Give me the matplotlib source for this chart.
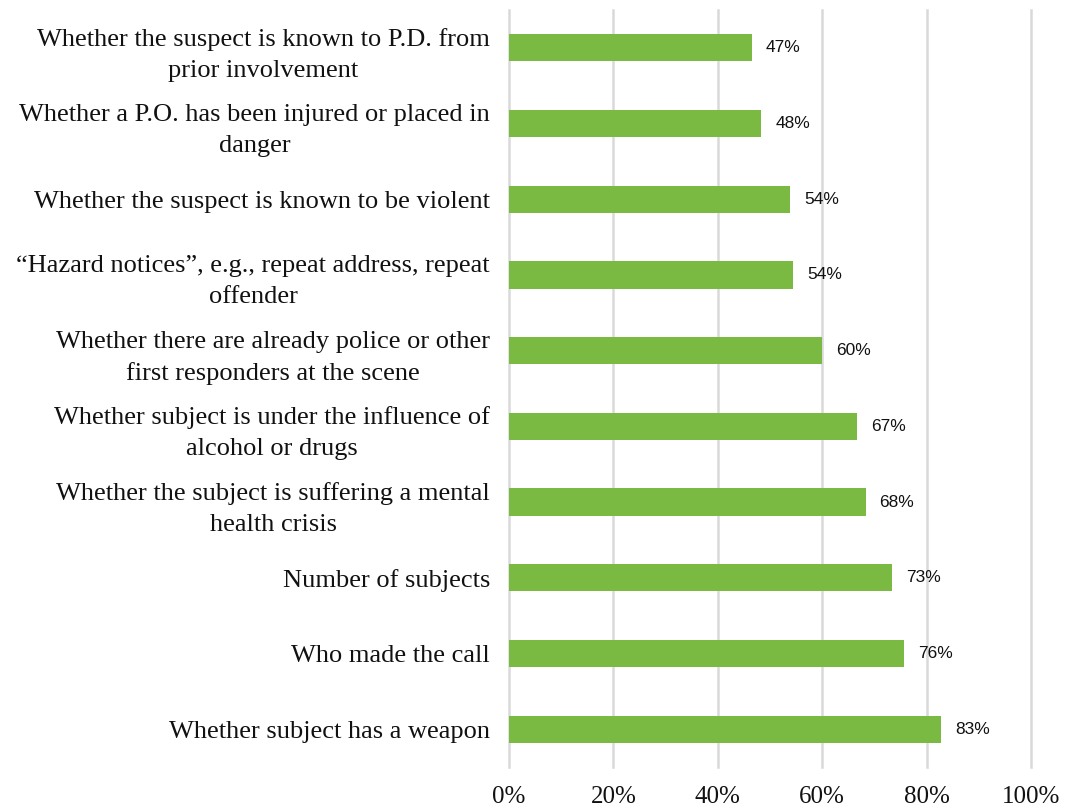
import matplotlib
matplotlib.use("Agg")
import matplotlib.pyplot as plt
import matplotlib.transforms as mtrans
from matplotlib import font_manager
from matplotlib.ticker import FuncFormatter

categories = [
    "Whether the suspect is known to P.D. from\nprior involvement",
    "Whether a P.O. has been injured or placed in\ndanger",
    "Whether the suspect is known to be violent",
    "\u201cHazard notices\u201d, e.g., repeat address, repeat\noffender",
    "Whether there are already police or other\nfirst responders at the scene",
    "Whether subject is under the influence of\nalcohol or drugs",
    "Whether the subject is suffering a mental\nhealth crisis",
    "Number of subjects",
    "Who made the call",
    "Whether subject has a weapon",
]
values = [0.465, 0.483, 0.538, 0.545, 0.60, 0.667, 0.683, 0.733, 0.757, 0.828]
value_labels = ["47%", "48%", "54%", "54%", "60%", "67%", "68%", "73%", "76%", "83%"]
xticks = [0, 0.2, 0.4, 0.6, 0.8, 1.0]

names = {f.name for f in font_manager.fontManager.ttflist}
val_family = "Liberation Sans Narrow" if "Liberation Sans Narrow" in names else "Liberation Sans"
val_size = 13.5 if val_family == "Liberation Sans Narrow" else 12.5

fig = plt.figure(figsize=(10.68, 8.11), dpi=100)
ax = fig.add_axes([509/1068, 44/811, 522/1068, 757/811])

n = len(categories)
ypos = list(range(n - 1, -1, -1))
ax.barh(ypos, values, height=0.36, color="#7aba43", zorder=3)
for y, v, lab in zip(ypos, values, value_labels):
    ax.text(v + 0.027, y, lab, va="center", ha="left", fontsize=val_size,
            family=val_family, color="#111111")

ax.set_xlim(0, 1.0)
ax.set_ylim(-0.5, n - 0.5)
ax.set_xticks(xticks)
ax.xaxis.set_major_formatter(FuncFormatter(lambda x, p: f"{x*100:.0f}%"))
ax.set_yticks(ypos)
ax.set_yticklabels(categories, family="Liberation Serif", fontsize=19,
                   ha="center", multialignment="center", linespacing=1.52,
                   color="#111111")
for t in ax.get_xticklabels():
    t.set_family("Liberation Serif")
    t.set_fontsize(18)
    t.set_color("#111111")
ax.tick_params(axis="both", length=0)
ax.tick_params(axis="x", pad=14)
ax.tick_params(axis="y", pad=0)
ax.grid(axis="x", color="#d9d9d9", linewidth=1.8, zorder=0)
for gl in ax.get_xgridlines():
    gl.set_clip_on(False)
for s in ["top", "right", "bottom", "left"]:
    ax.spines[s].set_visible(False)

# center-align y labels with right edge near 490 px
fig.canvas.draw()
renderer = fig.canvas.get_renderer()
for t in ax.get_yticklabels():
    bb = t.get_window_extent(renderer)
    w = bb.width
    offset = mtrans.ScaledTranslation(-(19 + w / 2) / 100, 0, fig.dpi_scale_trans)
    t.set_transform(ax.get_yaxis_transform() + offset)

fig.savefig("out.png", dpi=100)
